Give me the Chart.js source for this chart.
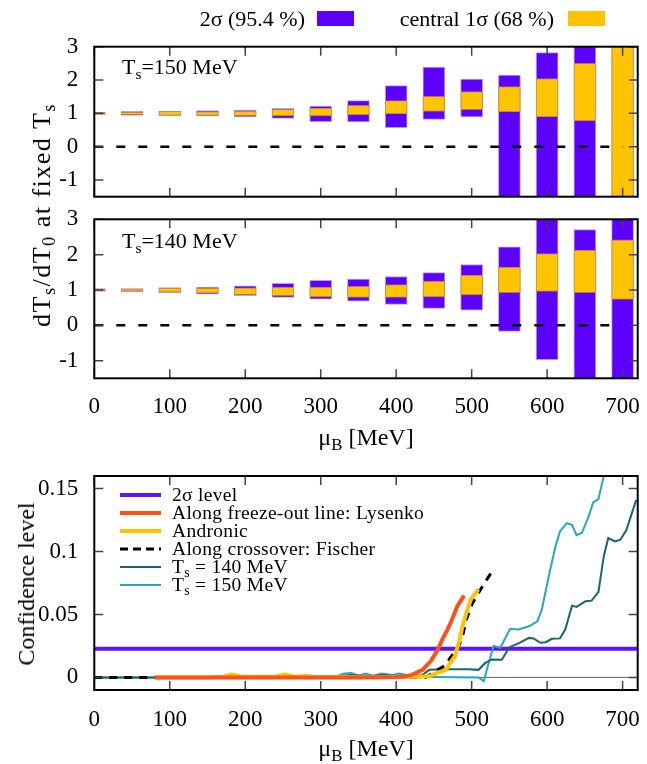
<!DOCTYPE html>
<html>
<head>
<meta charset="utf-8">
<script src="https://cdn.jsdelivr.net/npm/chart.js@4.4.1/dist/chart.umd.min.js"></script>
<style>
    body { margin: 0; background: #fff; }
    #wrap { position: relative; width: 647px; height: 764px; overflow: hidden; font-family: "Liberation Serif", serif; color: #000; }
    canvas { position: absolute; left: 0; }
    .lbl { position: absolute; white-space: nowrap; line-height: 1; transform: translateY(-50%); }
    .rot { position: absolute; white-space: nowrap; line-height: 1; transform: translate(-50%, -50%) rotate(-90deg); }
    .ctr { position: absolute; white-space: nowrap; line-height: 1; transform: translate(-50%, -50%); }
    sub { font-size: 70%; vertical-align: -0.3em; line-height: 0; }
    .box { position: absolute; }
    .key { font-size: 19.5px; letter-spacing: 0.3px; }
    .smp { position: absolute; left: 120px; width: 41px; transform: translateY(-50%); }
</style>
</head>
<body>
<div id="wrap">
    <canvas id="band150" width="647" height="180" style="top:30px"></canvas>
    <canvas id="band140" width="647" height="260" style="top:200px"></canvas>
    <canvas id="conf" width="647" height="304" style="top:460px"></canvas>

    <!-- key of the two band panels -->
    <div class="lbl" style="right:342px; top:19px; font-size:22px">2σ (95.4 %)</div>
    <div class="box" style="left:317px; top:11px; width:37px; height:15px; background:#5c00ff"></div>
    <div class="lbl" style="right:93px; top:19px; font-size:22px">central 1σ (68 %)</div>
    <div class="box" style="left:568px; top:11px; width:37px; height:15px; background:#ffc400"></div>

    <div class="lbl" style="left:122px; top:67px; font-size:22px">T<sub>s</sub>=150 MeV</div>
    <div class="lbl" style="left:122px; top:241px; font-size:22px">T<sub>s</sub>=140 MeV</div>
    <div class="rot" style="left:42px; top:215px; font-size:26px; letter-spacing:1.5px">dT<sub>s</sub>/dT<sub>0</sub> at fixed T<sub>s</sub></div>
    <div class="ctr" style="left:366px; top:437px; font-size:24px">μ<sub>B</sub> [MeV]</div>

    <!-- key of the confidence panel -->
    <div class="smp" style="top:495px; height:4px; background:#6010ff"></div>
    <div class="lbl key" style="left:172px; top:495px">2σ level</div>
    <div class="smp" style="top:513px; height:4px; background:#ff5018"></div>
    <div class="lbl key" style="left:172px; top:513px">Along freeze-out line: Lysenko</div>
    <div class="smp" style="top:531px; height:4px; background:#ffc200"></div>
    <div class="lbl key" style="left:172px; top:531px">Andronic</div>
    <div class="smp" style="top:549px; height:3px; background:repeating-linear-gradient(to right, #000 0 8px, transparent 8px 13px)"></div>
    <div class="lbl key" style="left:172px; top:549px">Along crossover: Fischer</div>
    <div class="smp" style="top:567px; height:2px; background:#1b6470"></div>
    <div class="lbl key" style="left:172px; top:567px">T<sub>s</sub> = 140 MeV</div>
    <div class="smp" style="top:585px; height:2px; background:#25a8b8"></div>
    <div class="lbl key" style="left:172px; top:585px">T<sub>s</sub> = 150 MeV</div>

    <div class="rot" style="left:26px; top:584px; font-size:24px">Confidence level</div>
    <div class="ctr" style="left:366px; top:748px; font-size:24px">μ<sub>B</sub> [MeV]</div>
</div>

<script>
// mu_B of the bars
const muB = [0, 50, 100, 150, 200, 250, 300, 350, 400, 450, 500, 550, 600, 650, 700];

// Ts = 150 MeV: 2 sigma and central 1 sigma ranges of dTs/dT0
const lo2s150 = [0.96, 0.94, 0.93, 0.92, 0.89, 0.85, 0.75, 0.74, 0.57, 0.82, 0.89, -2, -2, -2, -2];
const hi2s150 = [1.04, 1.06, 1.07, 1.08, 1.10, 1.15, 1.22, 1.38, 1.83, 2.39, 2.03, 2.15, 2.82, 3.5, 3.5];
const lo1s150 = [0.97, 0.96, 0.94, 0.94, 0.93, 0.92, 0.92, 0.95, 0.98, 1.06, 1.11, 1.04, 0.89, 0.77, -2];
const hi1s150 = [1.03, 1.04, 1.06, 1.05, 1.07, 1.12, 1.16, 1.24, 1.38, 1.51, 1.65, 1.80, 2.04, 2.50, 3.5];

// Ts = 140 MeV
const lo2s140 = [0.96, 0.95, 0.92, 0.88, 0.84, 0.79, 0.74, 0.68, 0.59, 0.48, 0.43, -0.17, -0.97, -2, -2];
const hi2s140 = [1.04, 1.04, 1.07, 1.08, 1.12, 1.19, 1.27, 1.31, 1.38, 1.49, 1.72, 2.22, 3.5, 2.71, 3.5];
const lo1s140 = [0.97, 0.96, 0.94, 0.91, 0.87, 0.84, 0.80, 0.79, 0.79, 0.80, 0.86, 0.92, 0.96, 0.92, 0.73];
const hi1s140 = [1.03, 1.03, 1.05, 1.05, 1.06, 1.08, 1.08, 1.10, 1.15, 1.25, 1.42, 1.65, 2.03, 2.13, 2.42];

const bandTicks = [-1, 0, 1, 2, 3];
const muTicks = [0, 100, 200, 300, 400, 500, 600, 700];
const zeroLineMu = [0, 700];

// confidence level curves
const levelMu = [0, 720];
const levelCL = [0.0228, 0.0228];

const lysenkoMu = [80, 150, 200, 250, 300, 350, 400, 410, 421, 435, 446, 455, 461, 468, 474, 481, 490];
const lysenkoCL = [0, 0, 0, 0, 0, 0, 0.0003, 0.0008, 0.002, 0.006, 0.013, 0.022, 0.030, 0.038, 0.046, 0.0565, 0.065];

const andronicMu = [80, 150, 170, 182, 195, 240, 252, 265, 280, 290, 350, 400, 430, 444, 456, 466, 472, 478, 481, 484, 488, 493, 499, 509];
const andronicCL = [0, 0, 0.0005, 0.0022, 0.0005, 0.0005, 0.0022, 0.0005, 0.0012, 0.0005, 0.0002, 0.0003, 0.0005, 0.001, 0.004, 0.006, 0.012, 0.017, 0.0235, 0.030, 0.041, 0.051, 0.062, 0.070];

const fischerMu = [0, 100, 200, 300, 400, 439, 452, 466, 472, 481, 488, 493, 501, 509, 517, 527];
const fischerCL = [0, 0, 0, 0, 0, 0, 0.005, 0.010, 0.016, 0.022, 0.033, 0.046, 0.059, 0.067, 0.075, 0.084];

const ts140Mu = [0, 100, 200, 300, 320, 340, 360, 380, 400, 421, 435, 444, 466, 483, 496, 509, 518, 527, 540, 550, 562, 576, 582, 591, 598, 606, 617, 624, 633, 639, 651, 659, 668, 675, 681, 690, 697, 705, 718];
const ts140CL = [0, 0, 0, 0, 0.0005, 0.002, 0.001, 0.002, 0.001, 0.001, 0.002, 0.006, 0.0065, 0.0065, 0.0065, 0.006, 0.0115, 0.0143, 0.014, 0.024, 0.027, 0.0314, 0.031, 0.0275, 0.028, 0.0307, 0.031, 0.038, 0.057, 0.056, 0.0605, 0.061, 0.068, 0.096, 0.1107, 0.108, 0.1094, 0.117, 0.141];

const ts150Mu = [0, 100, 200, 300, 320, 330, 340, 350, 360, 370, 380, 395, 404, 413, 430, 450, 480, 509, 516, 521, 529, 538, 551, 562, 576, 587, 593, 602, 611, 617, 626, 633, 639, 646, 655, 661, 668, 675, 682];
const ts150CL = [0, 0, 0, 0, 0.0005, 0.003, 0.0035, 0.0015, 0.003, 0.001, 0.003, 0.002, 0.003, 0.002, 0.0005, 0.0003, 0.0002, 0, -0.003, 0.008, 0.025, 0.0235, 0.0386, 0.038, 0.0406, 0.0446, 0.054, 0.080, 0.104, 0.116, 0.1226, 0.121, 0.113, 0.1147, 0.128, 0.139, 0.1416, 0.160, 0.175];

const clTicks = [0, 0.05, 0.1, 0.15];

function pts(xs, ys) {
    return xs.map((x, i) => ({ x: x, y: ys[i] }));
}

function bars(lo, hi) {
    return muB.map((m, i) => ({ x: m, y: [lo[i], hi[i]] }));
}

Chart.defaults.font.family = '"Liberation Serif", serif';
Chart.defaults.font.size = 23;
Chart.defaults.color = '#000';

// keep the plot area exactly where the layout padding puts it
function fixWidth(s) {
    s.width = 94.3;
    s.paddingTop = 0;
    s.paddingBottom = 0;
}

function fixHeight(s, h) {
    s.height = h;
    s.paddingLeft = 0;
    s.paddingRight = 0;
}

// gnuplot-like frame: inward ticks on all four sides and a black border
const framePlugin = {
    id: 'frame',
    beforeDatasetsDraw(chart, args, opts) {
        if (!opts.zeroAxis) return;
        const { ctx, chartArea: a, scales: { y } } = chart;
        const py = y.getPixelForValue(0);
        ctx.save();
        ctx.strokeStyle = '#666';
        ctx.lineWidth = 1;
        ctx.beginPath();
        ctx.moveTo(a.left, py);
        ctx.lineTo(a.right, py);
        ctx.stroke();
        ctx.restore();
    },
    afterDraw(chart) {
        const { ctx, chartArea: a, scales: { x, y } } = chart;
        ctx.save();
        ctx.strokeStyle = '#444';
        ctx.lineWidth = 1.5;
        ctx.beginPath();
        x.ticks.forEach(t => {
            const px = x.getPixelForValue(t.value);
            ctx.moveTo(px, a.bottom); ctx.lineTo(px, a.bottom - 9);
            ctx.moveTo(px, a.top); ctx.lineTo(px, a.top + 9);
        });
        y.ticks.forEach(t => {
            const py = y.getPixelForValue(t.value);
            ctx.moveTo(a.left, py); ctx.lineTo(a.left + 9, py);
            ctx.moveTo(a.right, py); ctx.lineTo(a.right - 9, py);
        });
        ctx.stroke();
        ctx.strokeStyle = '#000';
        ctx.lineWidth = 2;
        ctx.strokeRect(a.left, a.top, a.right - a.left, a.bottom - a.top);
        ctx.restore();
    }
};

function bandChart(id, lo2, hi2, lo1, hi1, padTop, xHeight, padBottom, showX) {
    return new Chart(document.getElementById(id), {
        type: 'bar',
        data: {
            datasets: [{
                type: 'line',
                label: 'zero',
                data: pts(zeroLineMu, [0, 0]),
                borderColor: '#000',
                borderWidth: 2.5,
                borderDash: [9, 13],
                pointRadius: 0,
                order: 0
            }, {
                label: 'central 1σ (68 %)',
                data: bars(lo1, hi1),
                backgroundColor: '#ffc400',
                borderColor: 'rgba(205, 140, 40, 0.8)',
                borderWidth: 1,
                borderSkipped: false,
                barThickness: 22,
                grouped: false,
                clip: 0,
                order: 1
            }, {
                label: '2σ (95.4 %)',
                data: bars(lo2, hi2),
                backgroundColor: '#5c00ff',
                borderColor: 'rgba(175, 145, 255, 0.9)',
                borderWidth: 1,
                borderSkipped: false,
                barThickness: 22,
                grouped: false,
                clip: 0,
                order: 2
            }]
        },
        options: {
            responsive: false,
            animation: false,
            events: [],
            layout: { padding: { top: padTop, right: 9.3, bottom: padBottom, left: 0 } },
            scales: {
                x: {
                    type: 'linear',
                    min: 0,
                    max: 720,
                    offset: false,
                    grid: { display: false, drawTicks: false },
                    border: { display: false },
                    ticks: { display: showX, padding: 15, maxRotation: 0 },
                    afterBuildTicks: s => { s.ticks = muTicks.map(v => ({ value: v })); },
                    afterFit: s => fixHeight(s, xHeight)
                },
                y: {
                    min: -1.5,
                    max: 3,
                    grid: { display: false, drawTicks: false },
                    border: { display: false },
                    ticks: { padding: 16, callback: v => String(v) },
                    afterBuildTicks: s => { s.ticks = bandTicks.map(v => ({ value: v })); },
                    afterFit: fixWidth
                }
            },
            plugins: {
                legend: { display: false },
                tooltip: { enabled: false }
            }
        },
        plugins: [framePlugin]
    });
}

bandChart('band150', lo2s150, hi2s150, lo1s150, hi1s150, 16.7, 0, 13.3, false);
bandChart('band140', lo2s140, hi2s140, lo1s140, hi1s140, 19.3, 81.7, 0, true);

// confidence level along the different lines
new Chart(document.getElementById('conf'), {
    type: 'line',
    data: {
        datasets: [{
            label: '2σ level',
            data: pts(levelMu, levelCL),
            borderColor: '#6010ff',
            borderWidth: 4,
            order: 6
        }, {
            label: 'Along freeze-out line: Lysenko',
            data: pts(lysenkoMu, lysenkoCL),
            borderColor: '#ff5018',
            borderWidth: 4,
            order: 1
        }, {
            label: 'Andronic',
            data: pts(andronicMu, andronicCL),
            borderColor: '#ffc200',
            borderWidth: 4,
            order: 2
        }, {
            label: 'Along crossover: Fischer',
            data: pts(fischerMu, fischerCL),
            borderColor: '#000',
            borderWidth: 3,
            borderDash: [8, 7],
            order: 3
        }, {
            label: 'Ts = 140 MeV',
            data: pts(ts140Mu, ts140CL),
            borderColor: '#1b6470',
            borderWidth: 2,
            order: 4
        }, {
            label: 'Ts = 150 MeV',
            data: pts(ts150Mu, ts150CL),
            borderColor: '#25a8b8',
            borderWidth: 2,
            order: 5
        }]
    },
    options: {
        responsive: false,
        animation: false,
        events: [],
        elements: { point: { radius: 0 }, line: { tension: 0 } },
        layout: { padding: { top: 16, right: 9.3, bottom: 0, left: 0 } },
        scales: {
            x: {
                type: 'linear',
                min: 0,
                max: 720,
                grid: { display: false, drawTicks: false },
                border: { display: false },
                ticks: { padding: 16, maxRotation: 0 },
                afterBuildTicks: s => { s.ticks = muTicks.map(v => ({ value: v })); },
                afterFit: s => fixHeight(s, 74)
            },
            y: {
                min: -0.01,
                max: 0.16,
                grid: { display: false, drawTicks: false },
                border: { display: false },
                ticks: { padding: 16, callback: v => String(v) },
                afterBuildTicks: s => { s.ticks = clTicks.map(v => ({ value: v })); },
                afterFit: fixWidth
            }
        },
        plugins: {
            legend: { display: false },
            tooltip: { enabled: false },
            frame: { zeroAxis: true }
        }
    },
    plugins: [framePlugin]
});
</script>
</body>
</html>
